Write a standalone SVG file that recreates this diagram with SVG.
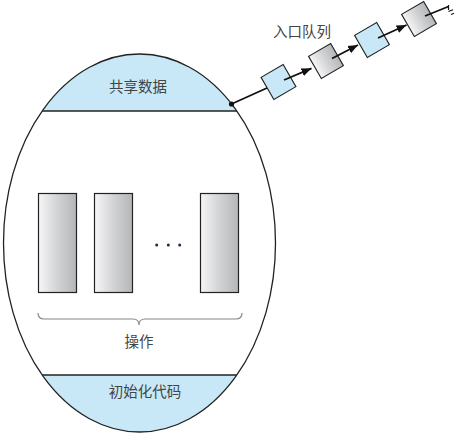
<svg xmlns="http://www.w3.org/2000/svg" width="459" height="435" viewBox="0 0 459 435">
<defs>
<linearGradient id="g" x1="0" y1="0" x2="1" y2="0">
<stop offset="0" stop-color="#f6f6f8"/>
<stop offset="0.5" stop-color="#d2d3d5"/>
<stop offset="1" stop-color="#b4b6b8"/>
</linearGradient>
<marker id="ah" viewBox="0 0 10 10" refX="10" refY="5" markerWidth="10" markerHeight="10" markerUnits="userSpaceOnUse" orient="auto">
<path d="M0,1 L10,5 L0,9 Z" fill="#111"/>
</marker>
<style>
.t{font-family:"Noto Sans CJK SC","Noto Sans",sans-serif;font-size:14.5px;fill:#444;text-anchor:middle}
.cap{fill:#c8e8f8;stroke:none}
.op{fill:url(#g);stroke:#222;stroke-width:1.2}
.qb{fill:#c8e8f8;stroke:#222;stroke-width:1.1}
.qg{fill:url(#g);stroke:#222;stroke-width:1.1}
.ln{stroke:#111;stroke-width:1.8;fill:none}
</style>
</defs>
<g id="monitor">
<path class="cap" d="M42.2,111 A136,189 0 0 1 236.8,111 Z"/>
<path class="cap" d="M42.2,375 A136,189 0 0 0 236.8,375 Z"/>
<ellipse cx="139.5" cy="243" rx="136" ry="189" fill="none" stroke="#222" stroke-width="1.3"/>
<line x1="42.2" y1="111" x2="236.8" y2="111" stroke="#222" stroke-width="1.3"/>
<line x1="42.2" y1="375" x2="236.8" y2="375" stroke="#222" stroke-width="1.3"/>
</g>
<g id="shared-data"><text class="t" x="138" y="92">共享数据</text></g>
<g id="init-code"><text class="t" x="145" y="397">初始化代码</text></g>
<g id="operations">
<rect class="op" x="38.5" y="193.5" width="38" height="99"/>
<rect class="op" x="94.5" y="193.5" width="38" height="99"/>
<rect class="op" x="200.5" y="193.5" width="38" height="99"/>
<circle cx="156.7" cy="245" r="1.5" fill="#1a2a4a"/>
<circle cx="168.3" cy="245" r="1.5" fill="#1a2a4a"/>
<circle cx="179.7" cy="245" r="1.5" fill="#1a2a4a"/>
<path d="M38,313 Q38,319 44,319 L133,319 Q139,319 139,325 Q139,319 145,319 L236,319 Q242,319 242,313" fill="none" stroke="#888" stroke-width="1.2"/>
<text class="t" x="139" y="347">操作</text>
</g>
<g id="queue-label"><text class="t" x="302" y="37">入口队列</text></g>
<g id="q1"><rect class="qb" x="-12.75" y="-12.75" width="25.5" height="25.5" transform="translate(278.5,82) rotate(-30)"/></g>
<g id="q2"><rect class="qg" x="-12.75" y="-12.75" width="25.5" height="25.5" transform="translate(326,61) rotate(-30)"/></g>
<g id="q3"><rect class="qb" x="-12.75" y="-12.75" width="25.5" height="25.5" transform="translate(372,40) rotate(-30)"/></g>
<g id="q4"><rect class="qg" x="-12.75" y="-12.75" width="25.5" height="25.5" transform="translate(419,19) rotate(-30)"/></g>
<g id="connectors">
<circle cx="231.5" cy="104" r="2.6" fill="#111"/>
<line class="ln" x1="231.5" y1="104" x2="267" y2="88"/>
<line class="ln" x1="284" y1="80" x2="311.5" y2="68.3" marker-end="url(#ah)"/>
<line class="ln" x1="332" y1="58.5" x2="358" y2="45" marker-end="url(#ah)"/>
<line class="ln" x1="378" y1="38" x2="406.5" y2="25" marker-end="url(#ah)"/>
<line class="ln" x1="425" y1="16" x2="448.5" y2="6.5"/>
<g stroke="#111" stroke-width="1.2" fill="none">
<line x1="448.5" y1="5" x2="448.5" y2="10"/>
<line x1="448.5" y1="11.5" x2="453" y2="9.8"/>
<line x1="451" y1="14.5" x2="454" y2="13.3"/>
</g>
</g>
</svg>
